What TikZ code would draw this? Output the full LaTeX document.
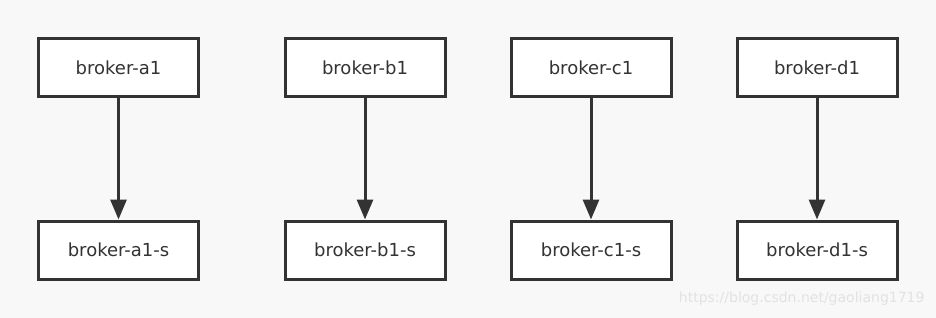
\documentclass[tikz,border=0pt]{standalone}
\usepackage{fontspec}
\setmainfont{DejaVu Sans}
\usetikzlibrary{arrows.meta}
\definecolor{bgcol}{HTML}{F8F8F8}
\definecolor{linecol}{HTML}{333333}
\definecolor{markcol}{HTML}{E2E2E2}

\begin{document}
\begin{tikzpicture}[x=1pt,y=-1pt,>={Triangle[length=20pt,width=16pt]},
  brokerbox/.style={draw=linecol,line width=3pt,fill=white,minimum width=160pt,
    minimum height=58pt,inner sep=0pt,text=linecol,font=\fontsize{18}{21}\selectfont}]
  \fill[bgcol] (0,0) rectangle (936,318);
  \useasboundingbox (0,0) rectangle (936,318);
  \foreach \n/\x in {a/118.5,b/365,c/591,d/817}{
    \node[brokerbox] (\n1) at (\x,67.5) {broker-\n1};
    \node[brokerbox] (\n1s) at (\x,250) {broker-\n1-s};
    \draw[->,line width=3pt,draw=linecol,fill=linecol] (\n1) -- (\n1s);
  }
  \node[anchor=east,text=markcol,font=\fontsize{14}{16}\selectfont] (mark) at (928,299) {https://blog.csdn.net/gaoliang1719};
\end{tikzpicture}
\end{document}
